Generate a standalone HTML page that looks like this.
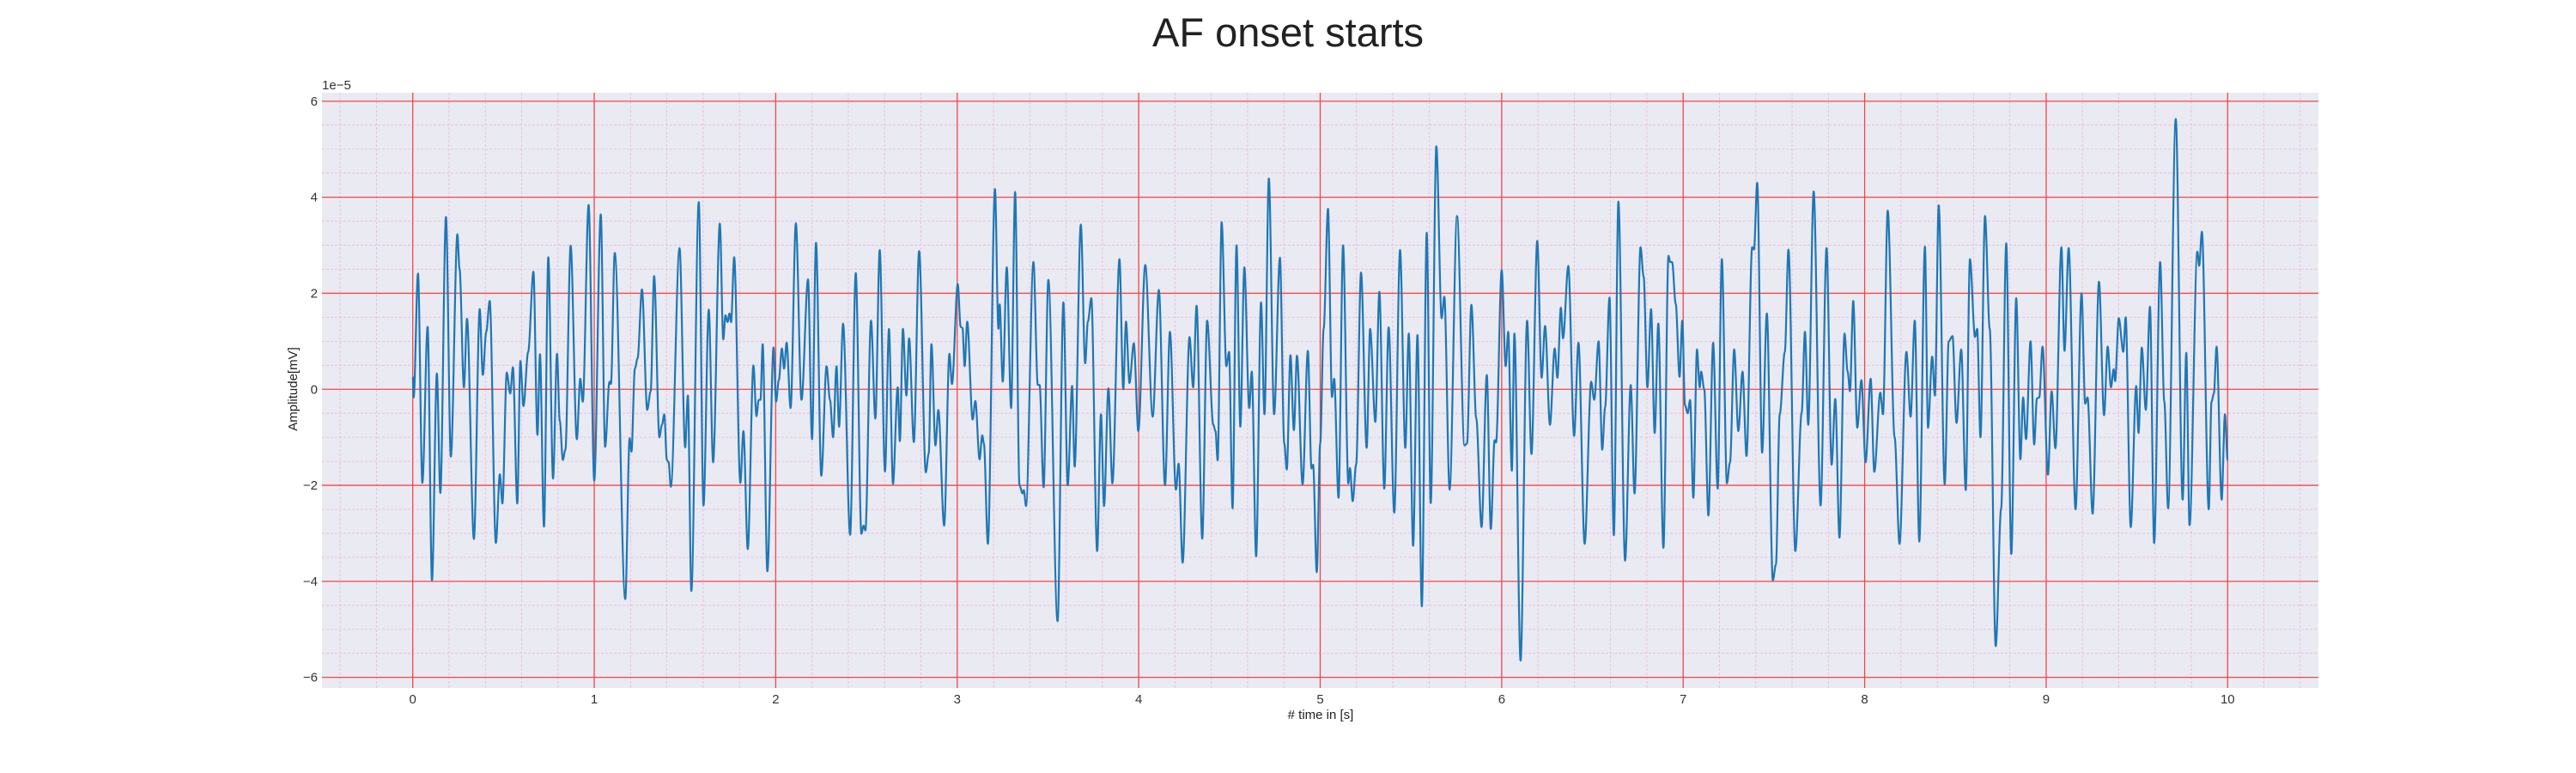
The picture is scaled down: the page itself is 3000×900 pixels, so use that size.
<!DOCTYPE html>
<html><head><meta charset="utf-8"><title>AF onset starts</title>
<style>html,body{margin:0;padding:0;background:#fff;}svg{display:block;font-family:"Liberation Sans",Arial,sans-serif;}</style>
</head><body>
<svg id="chart" width="3000" height="900" viewBox="0 0 3000 900">
<text x="1500" y="54" text-anchor="middle" font-size="47" fill="#222">AF onset starts</text>
<rect x="375" y="108" width="2325" height="693" fill="#eaeaf2"/>
<g id="grid"></g>
<g id="series"></g>
<g id="axes"></g>
<text x="375" y="104" font-size="15" fill="#333">1e−5</text>
<text transform="translate(346,453) rotate(-90)" text-anchor="middle" font-size="15" fill="#222">Amplitude[mV]</text>
<text x="1538" y="837" text-anchor="middle" font-size="15" fill="#222"># time in [s]</text>
</svg>
<script>
const xTicks = [0,1,2,3,4,5,6,7,8,9,10];
const yTicks = [-6,-4,-2,0,2,4,6];
const yTickLabels = ["−6","−4","−2","0","2","4","6"];
const times = [0.000,0.005,0.029,0.053,0.082,0.106,0.133,0.152,0.183,0.210,0.246,0.258,0.282,0.299,0.337,0.369,0.386,0.405,0.424,0.458,0.480,0.494,0.518,0.537,0.552,0.576,0.593,0.610,0.636,0.665,0.687,0.701,0.723,0.747,0.773,0.795,0.810,0.827,0.841,0.870,0.904,0.923,0.937,0.969,1.000,1.036,1.060,1.084,1.092,1.113,1.171,1.195,1.205,1.224,1.239,1.263,1.292,1.311,1.330,1.359,1.373,1.386,1.400,1.410,1.422,1.470,1.501,1.516,1.535,1.576,1.602,1.631,1.655,1.692,1.711,1.723,1.735,1.745,1.754,1.771,1.805,1.822,1.846,1.877,1.894,1.906,1.916,1.928,1.954,1.988,2.002,2.017,2.034,2.046,2.060,2.082,2.111,2.142,2.178,2.200,2.222,2.251,2.280,2.299,2.316,2.335,2.349,2.371,2.410,2.441,2.472,2.484,2.494,2.525,2.549,2.573,2.602,2.624,2.646,2.672,2.684,2.701,2.720,2.735,2.761,2.790,2.827,2.843,2.858,2.880,2.896,2.928,2.957,2.971,3.003,3.019,3.029,3.041,3.055,3.085,3.100,3.123,3.138,3.147,3.169,3.208,3.227,3.234,3.251,3.273,3.297,3.319,3.343,3.360,3.367,3.379,3.420,3.444,3.454,3.476,3.502,3.553,3.585,3.609,3.633,3.647,3.681,3.705,3.720,3.739,3.771,3.792,3.809,3.833,3.855,3.894,3.915,3.930,3.949,3.973,3.998,4.036,4.077,4.111,4.145,4.172,4.205,4.220,4.242,4.280,4.300,4.319,4.350,4.377,4.411,4.423,4.435,4.457,4.483,4.498,4.517,4.539,4.560,4.582,4.609,4.623,4.647,4.674,4.693,4.717,4.746,4.778,4.802,4.816,4.836,4.855,4.872,4.903,4.932,4.952,4.961,4.981,5.000,5.019,5.043,5.065,5.077,5.101,5.126,5.155,5.164,5.179,5.198,5.225,5.256,5.275,5.304,5.326,5.353,5.377,5.408,5.440,5.469,5.488,5.512,5.536,5.560,5.587,5.609,5.640,5.669,5.684,5.713,5.754,5.795,5.809,5.833,5.860,5.889,5.918,5.940,5.961,5.969,6.000,6.022,6.036,6.056,6.070,6.104,6.140,6.164,6.196,6.220,6.239,6.266,6.292,6.307,6.326,6.338,6.367,6.399,6.423,6.457,6.493,6.510,6.534,6.554,6.570,6.594,6.618,6.643,6.680,6.711,6.732,6.765,6.782,6.803,6.823,6.843,6.863,6.891,6.919,6.929,6.939,6.959,6.980,6.995,7.010,7.025,7.038,7.056,7.076,7.091,7.099,7.116,7.139,7.165,7.190,7.213,7.241,7.258,7.281,7.304,7.327,7.349,7.380,7.390,7.408,7.435,7.461,7.494,7.511,7.532,7.560,7.580,7.618,7.653,7.671,7.689,7.719,7.757,7.790,7.818,7.838,7.861,7.889,7.906,7.919,7.937,7.959,7.982,8.005,8.033,8.053,8.086,8.101,8.127,8.165,8.192,8.230,8.253,8.276,8.301,8.332,8.349,8.372,8.387,8.408,8.441,8.463,8.484,8.506,8.532,8.557,8.580,8.608,8.620,8.638,8.663,8.689,8.722,8.752,8.780,8.808,8.835,8.858,8.873,8.889,8.914,8.934,8.949,8.962,8.980,9.010,9.030,9.051,9.084,9.101,9.124,9.162,9.195,9.215,9.228,9.256,9.291,9.319,9.339,9.357,9.372,9.380,9.400,9.425,9.438,9.466,9.496,9.509,9.527,9.549,9.572,9.595,9.628,9.651,9.672,9.714,9.752,9.772,9.790,9.833,9.843,9.858,9.896,9.911,9.924,9.939,9.967,9.985,10.000];
const amplitudes = [0.26,-0.17,2.41,-1.95,1.30,-3.98,0.33,-2.16,3.59,-1.40,3.23,2.50,0.04,1.47,-3.12,1.67,0.30,1.20,1.84,-3.20,-1.77,-2.38,0.35,-0.09,0.46,-2.38,0.59,-0.35,0.78,2.45,-0.95,0.73,-2.86,2.75,-1.86,0.74,-0.65,-1.47,-1.26,2.99,-1.04,0.22,-0.26,3.84,-1.90,3.64,-1.20,0.16,0.11,2.84,-4.37,-1.02,-1.30,0.43,0.65,2.08,-0.43,-0.04,2.36,-1.00,-0.74,-0.52,-1.47,-1.52,-2.03,2.94,-1.21,-0.13,-4.20,3.90,-2.42,1.66,-1.52,3.45,1.04,1.54,1.40,1.58,1.40,2.75,-1.95,-0.87,-3.33,0.50,-0.56,-0.22,-0.22,0.94,-3.79,0.87,-0.26,0.19,0.85,0.43,0.97,-0.39,3.46,-0.22,2.29,-1.04,3.05,-1.80,0.48,-0.22,-1.00,0.48,-0.78,1.37,-3.03,2.42,-3.01,-2.84,-2.94,1.43,-0.61,2.90,-1.71,1.26,-1.97,0.04,-1.08,1.26,-0.13,1.06,-1.10,2.88,-1.73,-1.34,0.94,-1.17,-0.43,-2.84,0.74,0.11,2.19,1.30,1.28,0.48,1.41,-0.63,-0.24,-1.46,-0.96,-1.13,-3.22,4.17,1.26,1.77,0.16,2.54,-0.39,4.11,-2.00,-2.17,-2.10,-2.43,2.65,0.09,0.09,-2.04,2.28,-4.83,1.81,-2.00,0.07,-1.61,3.43,0.54,1.41,1.90,-3.37,-0.52,-2.43,0.02,-1.96,2.71,0.00,1.41,0.13,0.96,-0.87,2.59,-0.57,2.07,-2.00,1.20,-2.09,-1.55,-3.61,1.09,0.04,1.74,-3.11,1.43,-0.74,-0.87,-1.48,3.48,0.48,0.78,-2.48,3.00,-0.78,2.54,-0.39,0.37,-3.48,1.81,-0.52,4.39,-0.52,2.74,-1.13,-1.67,0.71,-0.85,0.70,-1.98,0.80,-1.65,-1.57,-3.81,-1.13,1.26,3.76,-0.16,0.22,-2.26,3.00,-1.96,-1.64,-2.33,-1.57,2.43,-1.22,1.26,-0.68,2.03,-2.07,1.29,-2.57,2.90,-1.22,1.16,-3.26,1.13,-4.52,3.26,-2.37,5.06,1.48,1.93,-2.09,3.61,-1.17,-1.13,1.76,-0.61,-2.87,0.30,-2.91,-1.06,-1.11,2.48,0.48,1.20,-1.70,1.16,-5.65,1.43,-1.35,3.09,0.24,1.32,-0.74,0.85,0.24,1.70,1.06,2.57,-0.97,0.97,-3.22,0.16,-0.22,1.00,-1.26,-0.37,1.91,-3.04,3.91,-3.57,0.09,-2.17,2.96,2.35,0.04,1.67,-0.91,1.37,-3.30,2.78,2.65,2.65,1.78,0.26,1.43,-0.33,-0.50,-0.22,-2.26,0.83,0.04,0.37,0.00,-2.63,0.97,-2.07,2.71,-1.96,-1.52,0.83,-0.87,0.37,-1.39,2.96,2.91,4.30,-1.32,1.58,-3.98,-3.65,-0.52,0.78,2.91,-3.37,-0.48,1.20,-0.74,4.12,-2.42,2.94,-1.57,-0.20,-3.09,1.16,0.37,-0.04,1.84,-0.80,0.19,-1.52,0.22,-1.72,-0.07,-0.52,3.72,-1.00,-3.22,0.78,-0.57,1.43,-3.17,2.97,-0.80,0.68,-0.13,3.83,-1.98,1.00,1.11,-0.70,0.83,-2.10,2.71,1.09,1.26,-1.00,3.61,1.26,-5.35,-2.48,3.04,-3.43,1.90,-1.46,-0.17,-1.04,1.00,-1.15,-0.19,-0.17,0.89,-1.78,-0.04,-1.23,2.96,0.80,2.94,-2.50,2.00,-0.30,-0.17,-2.59,2.24,-0.54,0.89,0.04,0.42,0.17,1.48,0.78,1.50,-2.87,0.07,-0.91,0.87,-0.43,1.72,-3.20,2.65,-0.26,-2.48,5.63,-2.30,0.76,-2.83,2.87,2.57,3.28,-2.50,-0.26,-0.09,0.89,-2.30,-0.52,-1.48];

const NS='http://www.w3.org/2000/svg';
const L=375,R=2700,T=108,B=801,X0=-0.5,X1=10.5;
function xs(t){return L+(t-X0)*(R-L)/(X1-X0);}
function ys(v){return 453.25 - v*55.9;}
function mk(tag,attrs,parent){const e=document.createElementNS(NS,tag);for(const k in attrs)e.setAttribute(k,attrs[k]);parent.appendChild(e);return e;}
const grid=document.getElementById('grid'), axes=document.getElementById('axes'), series=document.getElementById('series');
for(let i=-2;i<=52;i++){const t=i*0.2;if(Math.abs(t-Math.round(t))<1e-6)continue;
  const ln=mk('line',{x1:xs(t),x2:xs(t),y1:T,y2:B,stroke:'#e9b6e0','stroke-width':0.8,'stroke-dasharray':'3,2'},grid);
  
  }
for(let i=-12;i<=12;i++){const v=i*0.5;if(i%4===0)continue;
  const ln=mk('line',{x1:L,x2:R,y1:ys(v),y2:ys(v),stroke:'#e9b6e0','stroke-width':0.8,'stroke-dasharray':'3,2'},grid);
  
  }
xTicks.forEach(t=>{
  const ln=mk('line',{x1:xs(t),x2:xs(t),y1:T,y2:B,stroke:'#f04848','stroke-width':1.3},grid);
  
  
  const tx=mk('text',{x:xs(t),y:819,'text-anchor':'middle','font-size':15,fill:'#333'},axes);
  tx.textContent=String(t);
  
  });
yTicks.forEach((v,i)=>{
  const ln=mk('line',{x1:L,x2:R,y1:ys(v),y2:ys(v),stroke:'#f04848','stroke-width':1.3},grid);
  
  
  const tx=mk('text',{x:370,y:ys(v)+5,'text-anchor':'end','font-size':15,fill:'#333'},axes);
  tx.textContent=yTickLabels[i];
  
  });
let d='M'+xs(times[0]).toFixed(2)+','+ys(amplitudes[0]).toFixed(2);
for(let i=1;i<times.length;i++){
  const xa=xs(times[i-1]),ya=ys(amplitudes[i-1]),xb=xs(times[i]),yb=ys(amplitudes[i]);const dx=(xb-xa)/3;
  d+=' C'+(xa+dx).toFixed(2)+','+ya.toFixed(2)+' '+(xb-dx).toFixed(2)+','+yb.toFixed(2)+' '+xb.toFixed(2)+','+yb.toFixed(2);
}
const p=mk('path',{d:d,fill:'none',stroke:'#1f77b4','stroke-width':2.2,'stroke-linejoin':'round'},series);


</script>
</body></html>
